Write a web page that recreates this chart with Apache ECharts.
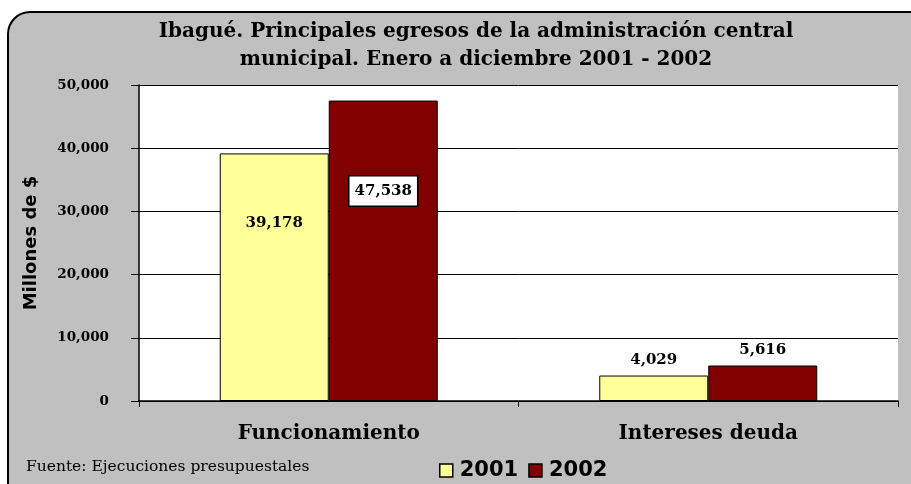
<!DOCTYPE html>
<html><head><meta charset="utf-8">
<script src="https://cdn.jsdelivr.net/npm/echarts@6/dist/echarts.min.js"></script>
<style>html,body{margin:0;padding:0;background:#fff}#c{width:911px;height:484px}</style>
</head><body><div id="c"></div>
<script>
const categories = ['Funcionamiento', 'Intereses deuda'];
const seriesNames = ['2001', '2002'];
const values2001 = [39178, 4029];
const values2002 = [47538, 5616];
const yTicks = [0, 10000, 20000, 30000, 40000, 50000];

const fmt = v => v.toLocaleString('en-US');
const chart = echarts.init(document.getElementById('c'), null, {renderer: 'canvas'});
const serif = '"DejaVu Serif", "Liberation Serif", serif';
const sans = '"DejaVu Sans", "Liberation Sans", sans-serif';

chart.setOption({
  animation: false,
  backgroundColor: '#ffffff',
  graphic: [
    {type: 'rect', z: -10, shape: {x: 8, y: 12, width: 1000, height: 520, r: 22},
     style: {fill: '#c0c0c0', stroke: '#000', lineWidth: 2}},
    {type: 'text', left: 26, top: 459, style: {text: 'Fuente: Ejecuciones presupuestales', font: '15.5px ' + serif, fill: '#000'}}
  ],
  title: {
    text: 'Ibagué. Principales egresos de la administración central\nmunicipal. Enero a diciembre 2001 - 2002',
    left: 471, textAlign: 'center', top: 13,
    textStyle: {fontFamily: serif, fontWeight: 'bold', fontSize: 20, lineHeight: 28, color: '#000'}
  },
  legend: {
    data: seriesNames, left: 434, top: 455, itemWidth: 13, itemHeight: 13, itemGap: 10,
    icon: 'rect',
    textStyle: {fontFamily: sans, fontWeight: 'bold', fontSize: 21, color: '#000', padding: [0,0,0,2]},
    itemStyle: {borderColor: '#000', borderWidth: 1.5}
  },
  grid: {left: 139, right: 13, top: 85, bottom: 83, backgroundColor: '#fff', show: true, borderWidth: 0},
  xAxis: {
    type: 'category', data: categories,
    axisLine: {lineStyle: {color: '#000', width: 1.5}},
    axisTick: {show: true, length: 6, lineStyle: {color: '#000'}},
    axisLabel: {fontFamily: serif, fontWeight: 'bold', fontSize: 20, color: '#000', margin: 23}
  },
  yAxis: {
    type: 'value', min: 0, max: 50000, interval: 10000,
    name: 'Millones de $', nameLocation: 'middle', nameGap: 99, nameRotate: 90,
    nameTextStyle: {fontFamily: sans, fontWeight: 'bold', fontSize: 18, color: '#000'},
    axisLine: {show: true, lineStyle: {color: '#000', width: 1.5}},
    axisTick: {show: true, inside: false, length: 8, lineStyle: {color: '#000'}},
    axisLabel: {fontFamily: serif, fontWeight: 'bold', fontSize: 13.5, color: '#000', margin: 30,
      formatter: v => yTicks.includes(v) ? fmt(v) : ''},
    splitLine: {lineStyle: {color: '#000', width: 1}}
  },
  series: [
    {name: seriesNames[0], type: 'bar', barWidth: 109, barGap: '0%',
     itemStyle: {color: '#ffff99', borderColor: '#000', borderWidth: 1},
     data: values2001.map((v, i) => ({value: v, label: i === 0 ?
       {show: true, position: 'insideTop', distance: 62} : {show: true, position: 'top', distance: 8}})),
     label: {formatter: p => fmt(p.value), fontFamily: serif, fontWeight: 'bold', fontSize: 15, color: '#000'}
    },
    {name: seriesNames[1], type: 'bar', barWidth: 109, barGap: '0%',
     itemStyle: {color: '#800000', borderColor: '#000', borderWidth: 1},
     data: values2002.map((v, i) => ({value: v, label: i === 0 ?
       {show: true, position: 'insideTop', distance: 76, backgroundColor: '#fff', borderColor: '#000', borderWidth: 1.5, padding: [7, 5, 7, 5]} :
       {show: true, position: 'top', distance: 8}})),
     label: {formatter: p => fmt(p.value), fontFamily: serif, fontWeight: 'bold', fontSize: 15, color: '#000'}
    }
  ]
});
</script></body></html>
